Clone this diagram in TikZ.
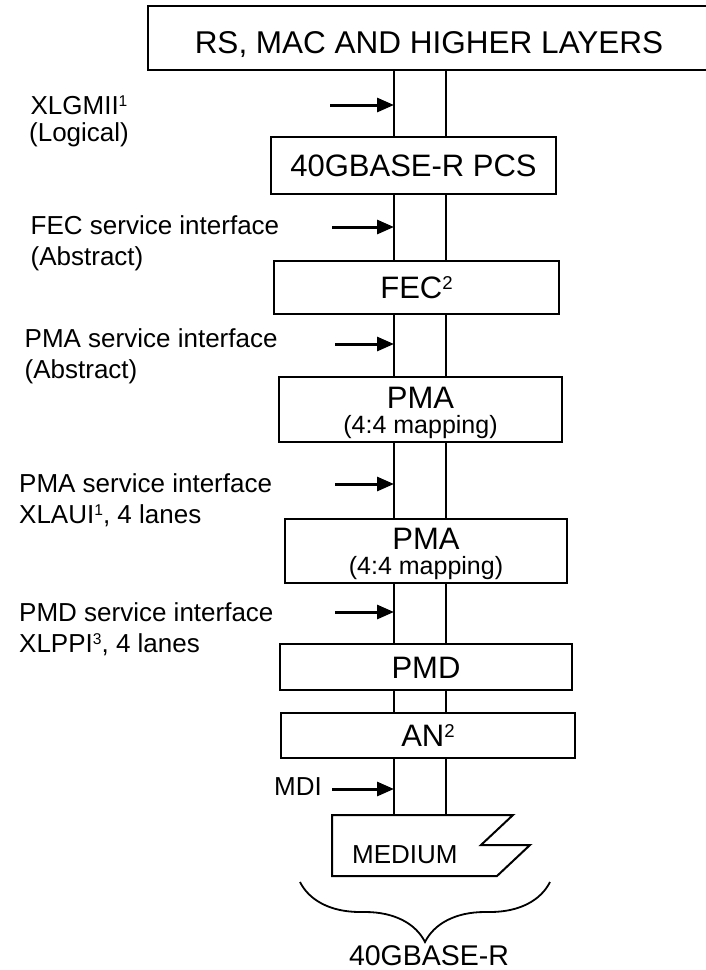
\documentclass[tikz,border=0pt]{standalone}
\usepackage{fontspec}
\setmainfont{Liberation Sans}
\usepackage{tikz}
\usetikzlibrary{arrows.meta, calc, backgrounds, decorations.pathreplacing}

\newcommand{\supmark}[1]{\raisebox{0.3em}{\scalebox{0.6}{#1}}}

\tikzset{
  layerbox/.style={draw, line width=2pt, fill=white, inner sep=0pt, align=center,
                   font=\fontsize{31}{31}\selectfont},
  onerow/.style={text height=22pt, text depth=0pt},
  svclabel/.style={font=\fontsize{26}{31}\selectfont, align=left,
                   anchor=north west, inner sep=0pt},
  svcarrow/.style={line width=3pt, -{Triangle[length=17pt,width=14pt]}},
  stackline/.style={line width=1.8pt},
}

\begin{document}
\begin{tikzpicture}[x=1pt, y=-1pt]
\useasboundingbox (0,0) rectangle (705,970);

% ── Layer boxes ─────────────────────────────────────────────
\node[layerbox, minimum width=562pt, minimum height=64pt,
      text height=30pt, text depth=0pt, font=\fontsize{31.5}{31.5}\selectfont]
    (top) at (429,38) {RS, MAC AND HIGHER LAYERS};
\node[layerbox, onerow, minimum width=285pt, minimum height=57pt]
    (pcs) at (413.5,165.5) {40GBASE-R PCS};
\node[layerbox, onerow, minimum width=285pt, minimum height=53pt]
    (fec) at (416.5,287.5) {FEC\supmark{2}};
\node[layerbox, minimum width=283pt, minimum height=65pt]
    (pmaA) at (420.5,409.5) {\rule{0pt}{28pt}PMA\\[-6pt]{\fontsize{25}{23}\selectfont (4:4 mapping)}};
\node[layerbox, minimum width=282pt, minimum height=64pt]
    (pmaB) at (426,551) {\rule{0pt}{28pt}PMA\\[-6pt]{\fontsize{25}{23}\selectfont (4:4 mapping)}};
\node[layerbox, onerow, minimum width=292pt, minimum height=46pt]
    (pmd) at (426,667) {PMD};
\node[layerbox, onerow, minimum width=294pt, minimum height=45pt]
    (an) at (428,735.5) {AN\supmark{2}};

% ── Medium ──────────────────────────────────────────────────
\draw[line width=2pt, fill=white]
    (332,815) -- (513,815) -- (481,845) -- (530,845) -- (497,876) -- (332,876) -- cycle;
\node[font=\fontsize{26}{26}\selectfont, anchor=north west, inner sep=0pt]
    (medium) at (352,845) {MEDIUM};
\coordinate (medtop) at (420,815);

% ── Service lines (behind the boxes) ────────────────────────
\coordinate (lineL) at (394,0);
\coordinate (lineR) at (446,0);
\begin{scope}[on background layer]
  \draw[stackline] (top.south -| lineL) -- (medtop -| lineL);
  \draw[stackline] (top.south -| lineR) -- (medtop -| lineR);
\end{scope}

% ── Interface labels ────────────────────────────────────────
\node[svclabel, align=center, anchor=north, font=\fontsize{26}{27}\selectfont]
    (lblXlgmii) at (79,96) {XLGMII\supmark{1}\\(Logical)};
\node[svclabel] (lblFec) at (30.5,215) {FEC service interface\\(Abstract)};
\node[svclabel] (lblPmaA) at (24.5,328) {PMA service interface\\(Abstract)};
\node[svclabel] (lblPmaB) at (19,473) {PMA service interface\\XLAUI\supmark{1}, 4 lanes};
\node[svclabel] (lblPmd) at (19,602) {PMD service interface\\XLPPI\supmark{3}, 4 lanes};
\node[svclabel] (lblMdi) at (274,777) {MDI};

% ── Interface arrows ────────────────────────────────────────
\coordinate (arXlgmii) at (330,105);
\coordinate (arFec) at (332,227);
\coordinate (arPmaA) at (335,344);
\coordinate (arPmaB) at (335,484);
\coordinate (arPmd) at (335,612);
\coordinate (arMdi) at (332,789);
\foreach \a in {arXlgmii, arFec, arPmaA, arPmaB, arPmd, arMdi}
  \draw[svcarrow] (\a) -- (\a -| lineL);

% ── Brace and PHY name ──────────────────────────────────────
\coordinate (braceR) at (550,882);
\coordinate (braceL) at (300,882);
\draw[stackline, decorate, decoration={brace, amplitude=60pt}] (braceR) -- (braceL);
\node[font=\fontsize{28.5}{28.5}\selectfont, anchor=north, inner sep=0pt]
    (phyname) at (429,945) {40GBASE-R};

\end{tikzpicture}
\end{document}
